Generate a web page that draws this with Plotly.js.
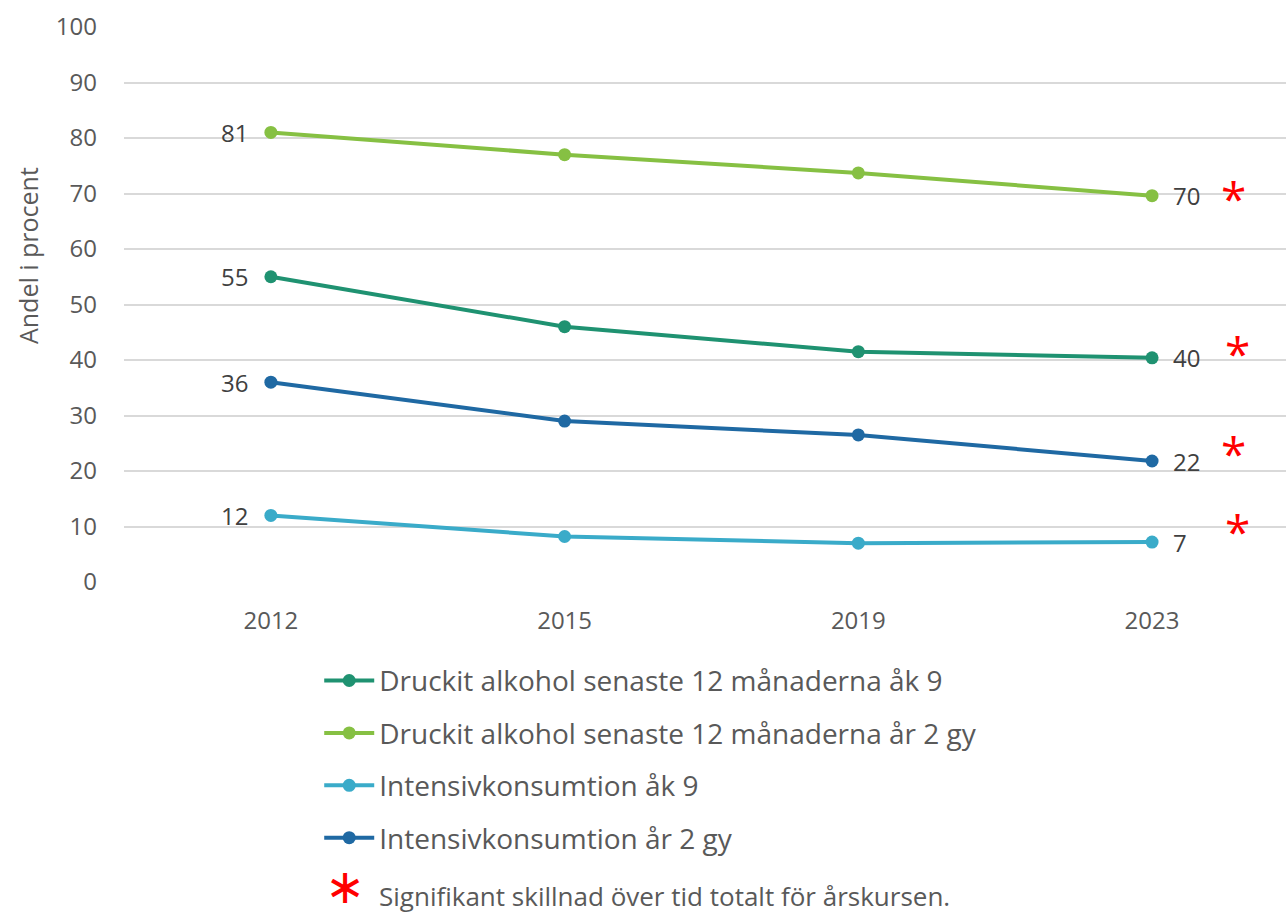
<!DOCTYPE html>
<html>
<head>
<meta charset="utf-8">
<script src="https://cdn.plot.ly/plotly-3.0.1.min.js"></script>
<style>html,body{margin:0;padding:0;background:#fff;}#chart{width:1286px;height:916px;}</style>
</head>
<body>
<div id="chart"></div>
<script>
const years = ["2012", "2015", "2019", "2023"];
const seriesNames = [
  "Druckit alkohol senaste 12 månaderna åk 9",
  "Druckit alkohol senaste 12 månaderna år 2 gy",
  "Intensivkonsumtion åk 9",
  "Intensivkonsumtion år 2 gy"
];
const alkoholAk9 = [55, 46, 41.5, 40.4];
const alkoholGy2 = [81, 77, 73.7, 69.6];
const intensivAk9 = [12, 8.2, 7, 7.2];
const intensivGy2 = [36, 29, 26.5, 21.8];
const firstLabels = ["55", "81", "12", "36"];
const lastLabels = ["40", "70", "7", "22"];
const significant = [true, true, true, true];
const yTicks = [0, 10, 20, 30, 40, 50, 60, 70, 80, 90, 100];
const yTitle = "Andel i procent";
const footnote = "Signifikant skillnad över tid totalt för årskursen.";

// styling
const colors = ["#1f9271", "#86c043", "#3aabc9", "#1f69a3"];
const starShiftY = [5, -2, 11, 8];
const starShiftX = [85, 81, 85, 81];
const allSeries = [alkoholAk9, alkoholGy2, intensivAk9, intensivGy2];
const FONT = "Open Sans, Noto Sans, sans-serif";

const traces = allSeries.map((vals, i) => ({
  type: "scatter",
  mode: "lines+markers",
  name: seriesNames[i],
  legendgroup: "g" + i,
  x: years,
  y: vals,
  line: {color: colors[i], width: 4},
  marker: {color: colors[i], size: 13},
  hoverinfo: "x+y+name"
}));

const lastIdx = years.length - 1;
const annotations = [];
allSeries.forEach((vals, i) => {
  annotations.push({
    x: 0, y: vals[0], xref: "x", yref: "y",
    text: firstLabels[i], showarrow: false,
    xanchor: "right", yanchor: "middle", xshift: -21,
    font: {family: FONT, size: 24, color: "#404040"}
  });
  annotations.push({
    x: lastIdx, y: vals[lastIdx], xref: "x", yref: "y",
    text: lastLabels[i], showarrow: false,
    xanchor: "left", yanchor: "middle", xshift: 19,
    font: {family: FONT, size: 24, color: "#404040"}
  });
  if (significant[i]) {
    annotations.push({
      x: lastIdx, y: vals[lastIdx], xref: "x", yref: "y",
      text: "*", showarrow: false,
      xanchor: "center", yanchor: "middle", xshift: starShiftX[i], yshift: starShiftY[i],
      font: {family: FONT, size: 46, color: "#ff0000"}
    });
  }
});
annotations.push({
  x: -0.083, y: 0.5, xref: "paper", yref: "paper",
  text: yTitle, textangle: -90, showarrow: false,
  xanchor: "center", yanchor: "middle", yshift: 49,
  font: {family: FONT, size: 25, color: "#595959"}
});
annotations.push({
  x: 0.19, y: -0.6, xref: "paper", yref: "paper",
  text: "\u2217", showarrow: false, xanchor: "center", yanchor: "bottom", borderpad: 0,
  font: {family: "DejaVu Sans", size: 48, color: "#ff0000"}
});
annotations.push({
  x: 0.219, y: -0.6, xref: "paper", yref: "paper",
  text: footnote, borderpad: 0,
  showarrow: false, xanchor: "left", yanchor: "bottom",
  font: {family: FONT, size: 26, color: "#595959"}
});

const layout = {
  width: 1286, height: 916,
  margin: {l: 124, r: 0, t: 27, b: 334},
  paper_bgcolor: "#ffffff", plot_bgcolor: "#ffffff",
  showlegend: true,
  legend: {
    orientation: "v", x: 0.168, y: -0.133, xanchor: "left", yanchor: "top",
    font: {family: FONT, size: 28, color: "#595959"},
    itemwidth: 50, tracegroupgap: 13, bgcolor: "rgba(0,0,0,0)"
  },
  xaxis: {
    type: "category", range: [-0.5, 3.456],
    showgrid: false, zeroline: false, showline: false,
    ticks: "", ticklabelstandoff: 22,
    tickfont: {family: FONT, size: 24, color: "#595959"}
  },
  yaxis: {
    range: [0, 100], tickvals: yTicks, ticktext: yTicks.map(String),
    showgrid: true, gridcolor: "#d9d9d9", gridwidth: 2,
    zeroline: false, showline: false, ticks: "", ticklabelstandoff: 26,
    tickfont: {family: FONT, size: 24, color: "#595959"}
  },
  annotations: annotations
};

Plotly.newPlot("chart", traces, layout, {displayModeBar: false, staticPlot: true});
</script>
</body>
</html>
